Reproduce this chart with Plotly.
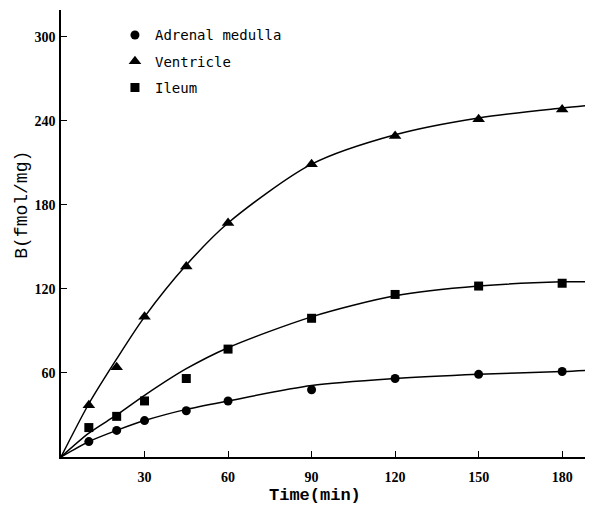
import plotly.graph_objects as go

# Measured points (time in min, B in fmol/mg)
time_points = [10, 20, 30, 45, 60, 90, 120, 150, 180]
adrenal_pts = [11, 19, 26, 33, 40, 48, 56, 59, 61]
ventricle_pts = [37, 64, 100, 136, 167, 209, 229, 241, 248]
ileum_pts = [21, 29, 40, 56, 77, 99, 116, 122, 124]

# Fitted curves
curve_time = [0, 10, 20, 30, 45, 60, 90, 120, 150, 180, 190]
adrenal_curve = [0, 11, 19, 26, 34, 40, 51, 56, 59, 61, 62]
ventricle_curve = [0, 38, 70, 100, 137, 167, 209, 230, 242, 249, 251]
ileum_curve = [0, 17, 30, 44, 63, 78, 100, 115, 122, 125, 125]

x_ticks = [30, 60, 90, 120, 150, 180]
y_ticks = [60, 120, 180, 240, 300]

fig = go.Figure()

line_style = dict(color="black", width=1.5, shape="spline", smoothing=0.8)
for yc in [adrenal_curve, ventricle_curve, ileum_curve]:
    fig.add_trace(go.Scatter(x=curve_time, y=yc, mode="lines", line=line_style,
                             showlegend=False, hoverinfo="skip"))

series = [
    ("Adrenal medulla", adrenal_pts, "circle", 9),
    ("Ventricle", ventricle_pts, "triangle-up", 11),
    ("Ileum", ileum_pts, "square", 9),
]
for i, (name, ys, sym, sz) in enumerate(series):
    fig.add_trace(go.Scatter(x=time_points, y=ys, mode="markers", name=name,
                             legendgroup=f"g{i}",
                             marker=dict(symbol=sym, size=sz, color="black")))

tick_font = dict(family="Liberation Serif", size=14, color="black", weight="bold")

fig.update_layout(
    width=585, height=504,
    margin=dict(l=53, r=3, t=2, b=55),
    plot_bgcolor="white", paper_bgcolor="white",
    font=dict(family="Liberation Serif", color="black", size=13),
    legend=dict(x=0.102, y=0.979, xanchor="left", yanchor="top",
                font=dict(family="DejaVu Sans Mono", size=14),
                tracegroupgap=5, bgcolor="rgba(0,0,0,0)"),
    xaxis=dict(range=[0, 190], tickvals=x_ticks, ticks="inside", ticklen=6,
               tickcolor="black", showline=True, linecolor="black", linewidth=1.5,
               showgrid=False, zeroline=False, automargin=False,
               ticklabelstandoff=6, tickfont=tick_font),
    yaxis=dict(range=[0, 319], tickvals=y_ticks, ticks="inside", ticklen=6,
               tickcolor="black", showline=True, linecolor="black", linewidth=1.5,
               showgrid=False, zeroline=False, automargin=False,
               ticklabelstandoff=1, tickfont=tick_font),
    annotations=[
        dict(text="<b>Time(min)</b>", xref="paper", yref="paper",
             x=0.48, y=-0.086, xanchor="center", yanchor="middle",
             showarrow=False, font=dict(family="Liberation Mono", size=17)),
        dict(text="B(fmol/mg)", xref="paper", yref="paper",
             x=-0.074, y=0.564, xanchor="center", yanchor="middle",
             textangle=-90, showarrow=False,
             font=dict(family="Liberation Mono", size=18)),
    ],
)

fig.write_html("out.html")
